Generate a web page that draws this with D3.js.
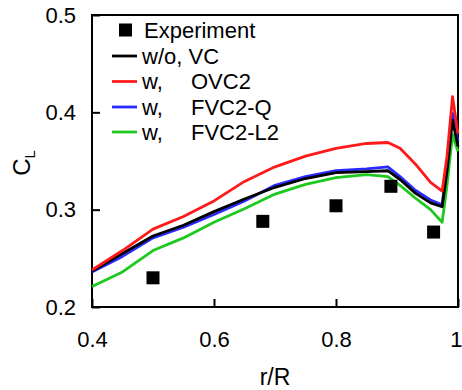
<!DOCTYPE html>
<html>
<head>
<meta charset="utf-8">
<script src="https://cdn.jsdelivr.net/npm/d3@7"></script>
<style>
  body { margin: 0; background: #fff; }
  text { font-family: Arial, "Liberation Sans", sans-serif; fill: #000; }
</style>
</head>
<body>
<div id="chart"></div>
<script>
// radial stations (r/R)
const rr = [0.4, 0.45, 0.5, 0.55, 0.6, 0.65, 0.7, 0.75, 0.8, 0.85, 0.885, 0.905, 0.93, 0.955, 0.974, 0.982, 0.991, 1.0];

const clNoVC   = [0.237, 0.255, 0.273, 0.284, 0.298, 0.311, 0.323, 0.332, 0.338, 0.339, 0.340, 0.331, 0.317, 0.307, 0.303, 0.340, 0.392, 0.365];
const clOVC2   = [0.238, 0.258, 0.280, 0.293, 0.309, 0.329, 0.344, 0.355, 0.363, 0.368, 0.369, 0.363, 0.347, 0.328, 0.319, 0.355, 0.416, 0.378];
const clFVC2Q  = [0.236, 0.252, 0.271, 0.282, 0.295, 0.309, 0.325, 0.334, 0.340, 0.342, 0.344, 0.334, 0.320, 0.310, 0.305, 0.345, 0.399, 0.370];
const clFVC2L2 = [0.221, 0.236, 0.258, 0.271, 0.287, 0.301, 0.316, 0.326, 0.333, 0.336, 0.334, 0.325, 0.312, 0.300, 0.287, 0.325, 0.377, 0.360];

// experiment
const expR  = [0.5, 0.68, 0.8, 0.89, 0.96];
const expCL = [0.23, 0.288, 0.304, 0.324, 0.277];

const seriesNames  = ['w/o, VC', 'OVC2', 'FVC2-Q', 'FVC2-L2'];
const seriesPrefix = ['w/o, VC', 'w,', 'w,', 'w,'];
const seriesColors = ['#000000', '#ff1a1a', '#2a2aff', '#1ec81e'];
const seriesValues = [clNoVC, clOVC2, clFVC2Q, clFVC2L2];

const xTicks = [0.4, 0.6, 0.8, 1];
const yTicks = [0.2, 0.3, 0.4, 0.5];

const W = 462, H = 390;
const margin = { top: 15, right: 4, bottom: 83, left: 92 };
const width = W - margin.left - margin.right;
const height = H - margin.top - margin.bottom;
const FONT = 'Arial, "Liberation Sans", sans-serif';

const svg = d3.select('#chart').append('svg')
  .attr('width', W)
  .attr('height', H);

const g = svg.append('g')
  .attr('transform', `translate(${margin.left},${margin.top})`);

const x = d3.scaleLinear().domain([0.4, 1]).range([0, width]);
const y = d3.scaleLinear().domain([0.2, 0.5]).range([height, 0]);

// axes, ticks pointing inward
const xAxis = d3.axisBottom(x).tickValues(xTicks).tickSize(-8).tickPadding(24)
  .tickFormat(d => d === 1 ? '1' : d3.format('.1f')(d));
const yAxis = d3.axisLeft(y).tickValues(yTicks).tickSize(-8).tickPadding(16)
  .tickFormat(d3.format('.1f'));

g.append('g')
  .attr('transform', `translate(0,${height})`)
  .call(xAxis)
  .call(a => a.select('.domain').remove())
  .call(a => a.selectAll('line').attr('stroke-width', 2))
  .call(a => a.selectAll('text').attr('font-size', 22).attr('font-family', FONT))
  .call(a => a.selectAll('text').filter(d => d === 1).attr('text-anchor', 'end').attr('x', 4));

g.append('g')
  .call(yAxis)
  .call(a => a.select('.domain').remove())
  .call(a => a.selectAll('line').attr('stroke-width', 2))
  .call(a => a.selectAll('text').attr('font-size', 22).attr('font-family', FONT));

// frame
g.append('rect')
  .attr('width', width)
  .attr('height', height)
  .attr('fill', 'none')
  .attr('stroke', '#000')
  .attr('stroke-width', 2);

// lines
const line = d3.line()
  .x((d, i) => x(rr[i]))
  .y(d => y(d));

// green, blue, black, red
const drawOrder = [3, 2, 0, 1];
drawOrder.forEach(k => {
  g.append('path')
    .datum(seriesValues[k])
    .attr('fill', 'none')
    .attr('stroke', seriesColors[k])
    .attr('stroke-width', 2.8)
    .attr('stroke-linejoin', 'round')
    .attr('d', line);
});

// experiment squares
const sq = 13;
g.selectAll('rect.exp')
  .data(expR)
  .join('rect')
  .attr('class', 'exp')
  .attr('x', (d) => x(d) - sq / 2)
  .attr('y', (d, i) => y(expCL[i]) - sq / 2)
  .attr('width', sq)
  .attr('height', sq)
  .attr('fill', '#000');

// legend
const leg = svg.append('g');
const rowY = [30, 56, 81.5, 107, 132];
leg.append('rect')
  .attr('x', 119).attr('y', rowY[0] - 6.5)
  .attr('width', 13).attr('height', 13)
  .attr('fill', '#000');
leg.append('text')
  .attr('x', 144).attr('y', rowY[0])
  .attr('dy', '0.36em')
  .attr('font-size', 22)
  .text('Experiment');

seriesNames.forEach((name, i) => {
  const yy = rowY[i + 1];
  leg.append('line')
    .attr('x1', 112).attr('x2', 137)
    .attr('y1', yy).attr('y2', yy)
    .attr('stroke', seriesColors[i])
    .attr('stroke-width', 2.8);
  leg.append('text')
    .attr('x', 142).attr('y', yy)
    .attr('dy', '0.36em')
    .attr('font-size', 22)
    .text(seriesPrefix[i]);
  if (i > 0) {
    leg.append('text')
      .attr('x', 191).attr('y', yy)
      .attr('dy', '0.36em')
      .attr('font-size', 22)
      .text(name);
  }
});

// axis titles
svg.append('text')
  .attr('x', margin.left + width / 2)
  .attr('y', 385)
  .attr('text-anchor', 'middle')
  .attr('font-size', 23)
  .text('r/R');

const yl = svg.append('text')
  .attr('transform', 'translate(30,163) rotate(-90)')
  .attr('text-anchor', 'middle')
  .attr('font-size', 24);
yl.append('tspan').text('C');
yl.append('tspan').attr('font-size', 15).attr('dy', 5).text('L');
</script>
</body>
</html>
